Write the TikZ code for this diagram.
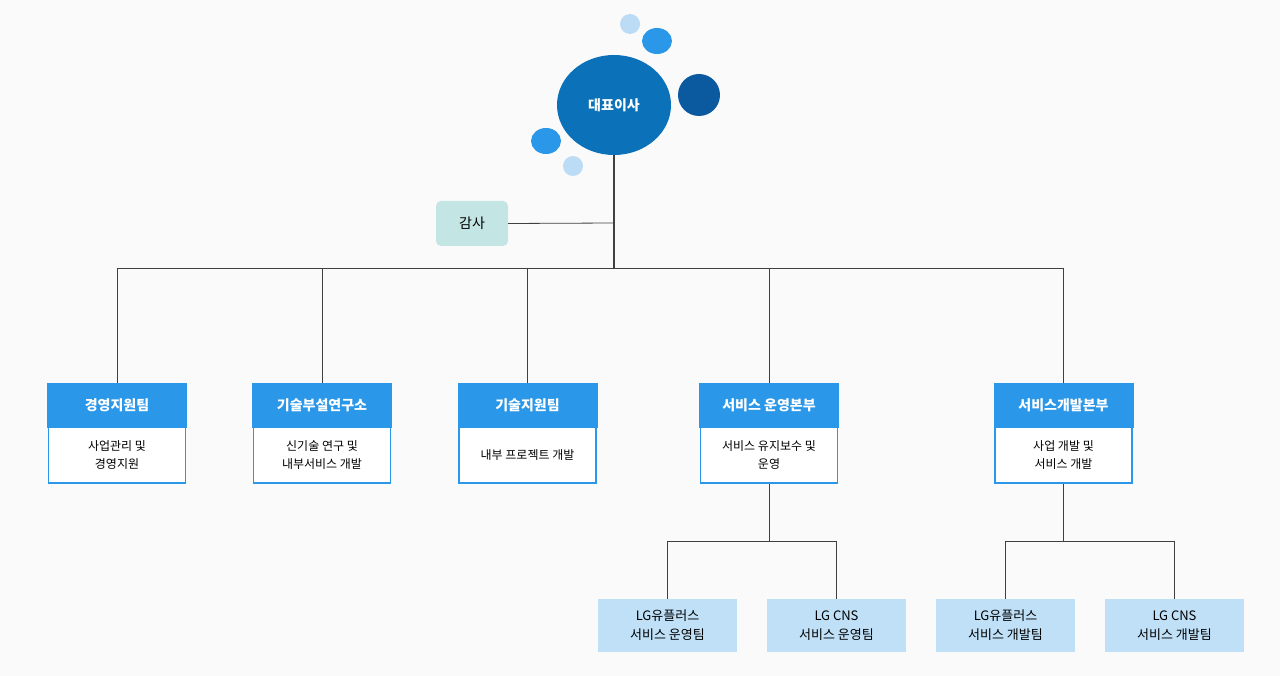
\documentclass[tikz,border=0pt]{standalone}
\usepackage{fontspec}
\setmainfont{Noto Sans CJK KR}
\usetikzlibrary{shapes.geometric}
\begin{document}
\begin{tikzpicture}[x=1pt,y=-1pt,
 ln/.style={draw=black!75,line width=0.8pt},
 hd/.style={fill=hblue,draw=hblue,text=white,font=\fontsize{14}{17}\selectfont\bfseries,inner sep=0pt},
 bd/.style={fill=white,draw=hblue,line width=1.5pt,font=\fontsize{12}{18}\selectfont,align=center,inner sep=0pt},
 sb/.style={fill=lblue,draw=none,font=\fontsize{13}{19}\selectfont,align=center,inner sep=0pt,minimum width=139pt,minimum height=53pt}]
\definecolor{hblue}{HTML}{2B97E8}
\definecolor{mblue}{HTML}{0B72B9}
\definecolor{dblue}{HTML}{0B5AA0}
\definecolor{pblue}{HTML}{BCDCF5}
\definecolor{lblue}{HTML}{BFE0F7}
\definecolor{teal}{HTML}{C3E5E3}
\fill[fill=black!2] (0,0) rectangle (1280,676);
\useasboundingbox (0,0) rectangle (1280,676);
% bubbles
\fill[pblue] (630,24) circle (10);
\fill[hblue] (657,41) ellipse (15 and 13);
\fill[dblue] (699,95) circle (21);
\fill[hblue] (546,141) ellipse (15 and 13);
\fill[pblue] (573,166) circle (10);
\node[ellipse,fill=mblue,minimum width=114pt,minimum height=100pt,text=white,font=\fontsize{14}{17}\selectfont\bfseries,inner sep=0pt] (ceo) at (614,105) {대표이사};
\coordinate (j) at (614,268);
\coordinate (ja) at (614,223);
\draw[ln,line width=1.4pt] (ceo.south) -- (j);
\node[fill=teal,rounded corners=5pt,minimum width=72pt,minimum height=45pt,font=\fontsize{14}{17}\selectfont,inner sep=0pt] (audit) at (472,223.5) {감사};
\draw[ln] (audit.east) -- (ja);
% departments
\foreach \n/\x/\h/\b in {d1/117/경영지원팀/{사업관리 및\\경영지원},d2/322/기술부설연구소/{신기술 연구 및\\내부서비스 개발},d3/527.5/기술지원팀/{내부 프로젝트 개발},d4/769/서비스 운영본부/{서비스 유지보수 및\\운영},d5/1063.5/서비스개발본부/{사업 개발 및\\서비스 개발}}{
 \node[bd,minimum width=137pt,minimum height=56pt] (\n b) at (\x,455) {\b};
 \node[hd,minimum width=139pt,minimum height=44pt] (\n) at (\x,405) {\h};
}
\draw[ln] (117,268) -- (1063.5,268);
\foreach \n in {d1,d2,d3,d4,d5}{\draw[ln] (\n.north |- j) -- (\n.north);}
% sub teams
\node[sb] (s1) at (667.5,625.5) {LG유플러스\\서비스 운영팀};
\node[sb] (s2) at (836.5,625.5) {LG CNS\\서비스 운영팀};
\node[sb] (s3) at (1005.5,625.5) {LG유플러스\\서비스 개발팀};
\node[sb] (s4) at (1174.5,625.5) {LG CNS\\서비스 개발팀};
\coordinate (k1) at (769,541);
\coordinate (k2) at (1063.5,541);
\draw[ln] (d4b.south) -- (k1);
\draw[ln] (s1.north) -- (s1.north |- k1) -- (s2.north |- k1) -- (s2.north);
\draw[ln] (d5b.south) -- (k2);
\draw[ln] (s3.north) -- (s3.north |- k2) -- (s4.north |- k2) -- (s4.north);
\end{tikzpicture}
\end{document}
